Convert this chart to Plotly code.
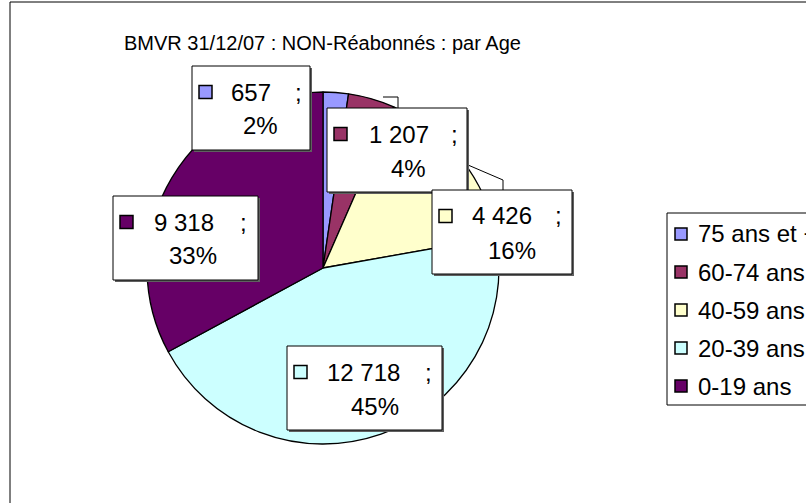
import plotly.graph_objects as go

W, H = 806, 503

labels = ["75 ans et +", "60-74 ans", "40-59 ans", "20-39 ans", "0-19 ans"]
values = [657, 1207, 4426, 12718, 9318]
colors = ["#9999FF", "#993366", "#FFFFCC", "#CCFFFF", "#660066"]
title = "BMVR 31/12/07 : NON-Réabonnés : par Age"

# layout (pixel positions)
cx, cy, r = 323, 268, 176
# label boxes: x0, y0, x1, y1, number x, semicolon x, percent centre x
boxes = [(192, 66, 310, 150, 229, 298, 260),
         (327, 108, 467, 192, 367, 454, 408),
         (432, 190, 572, 274, 470, 558, 512),
         (287, 346, 442, 430, 325, 428, 375),
         (113, 196, 258, 280, 152, 243, 193)]
legend_left, legend_top, legend_bottom = 667, 213, 405
legend_y0, legend_dy = 234, 38

def px(x):
    return x / W

def py(y):
    return 1 - y / H

total = sum(values)

def fmt(v):
    return f"{v:,}".replace(",", " ")

fig = go.Figure()
fig.add_trace(go.Pie(
    labels=labels, values=values, sort=False, direction="clockwise", rotation=0,
    marker=dict(colors=colors, line=dict(color="black", width=1.3)),
    textinfo="none", hoverinfo="label+value+percent", showlegend=False,
    domain=dict(x=[px(cx - r), px(cx + r)], y=[py(cy + r), py(cy - r)]),
))

shapes = []
annotations = []
# chart border
shapes.append(dict(type="rect", xref="paper", yref="paper", x0=px(10), x1=px(1000),
                   y0=py(2), y1=py(700), line=dict(color="black", width=1)))

# leader lines
leaders = [[(383, 97), (398, 97), (398, 108)], [(468, 165), (503, 180), (503, 190)]]
for pts in leaders:
    for (a, b) in zip(pts[:-1], pts[1:]):
        shapes.append(dict(type="line", xref="paper", yref="paper",
                           x0=px(a[0]), y0=py(a[1]), x1=px(b[0]), y1=py(b[1]),
                           line=dict(color="black", width=1)))

font = dict(family="Liberation Sans, Arial", size=24, color="black")
for i, (x0, y0, x1, y1, nx, sx, pcx) in enumerate(boxes):
    shapes.append(dict(type="rect", xref="paper", yref="paper",
                       x0=px(x0 + 2), x1=px(x1 + 2), y0=py(y0 + 2), y1=py(y1 + 2),
                       fillcolor="#606060", line=dict(width=0)))
    shapes.append(dict(type="rect", xref="paper", yref="paper",
                       x0=px(x0), x1=px(x1), y0=py(y0), y1=py(y1),
                       fillcolor="white", line=dict(color="black", width=1)))
    l1 = y0 + 26
    l2 = y0 + 60
    shapes.append(dict(type="rect", xref="paper", yref="paper",
                       x0=px(x0 + 7), x1=px(x0 + 20), y0=py(l1 - 6.5), y1=py(l1 + 6.5),
                       fillcolor=colors[i], line=dict(color="black", width=1.5)))
    annotations.append(dict(xref="paper", yref="paper", x=px(nx), y=py(l1),
                            xanchor="left", yanchor="middle", text=fmt(values[i]),
                            showarrow=False, font=font))
    annotations.append(dict(xref="paper", yref="paper", x=px(sx), y=py(l1),
                            xanchor="center", yanchor="middle", text=";",
                            showarrow=False, font=font))
    pct = round(100 * values[i] / total)
    annotations.append(dict(xref="paper", yref="paper", x=px(pcx), y=py(l2),
                            xanchor="center", yanchor="middle", text=f"{pct}%",
                            showarrow=False, font=font))

# legend (drawn by hand so it can run past the right edge like the original)
shapes.append(dict(type="rect", xref="paper", yref="paper", x0=px(legend_left), x1=px(1000),
                   y0=py(legend_top), y1=py(legend_bottom),
                   fillcolor="white", line=dict(color="black", width=1)))
lfont = dict(family="Liberation Sans, Arial", size=24, color="black")
for i, lab in enumerate(labels):
    yy = legend_y0 + legend_dy * i
    shapes.append(dict(type="rect", xref="paper", yref="paper",
                       x0=px(legend_left + 8), x1=px(legend_left + 20),
                       y0=py(yy - 6), y1=py(yy + 6),
                       fillcolor=colors[i], line=dict(color="black", width=1.5)))
    annotations.append(dict(xref="paper", yref="paper", x=px(legend_left + 29), y=py(yy),
                            xanchor="left", yanchor="middle", text=lab,
                            showarrow=False, font=lfont))

annotations.append(dict(xref="paper", yref="paper", x=px(322), y=py(43),
                        xanchor="center", yanchor="middle", text=title, showarrow=False,
                        font=dict(family="Liberation Sans, Arial", size=20, color="black")))

fig.update_layout(width=W, height=H, margin=dict(l=0, r=0, t=0, b=0),
                  paper_bgcolor="white", plot_bgcolor="white",
                  shapes=shapes, annotations=annotations, showlegend=False)
fig.write_html("out.html", config={"displayModeBar": False},
               post_script="document.body.style.margin='0';document.body.style.overflow='hidden';")
